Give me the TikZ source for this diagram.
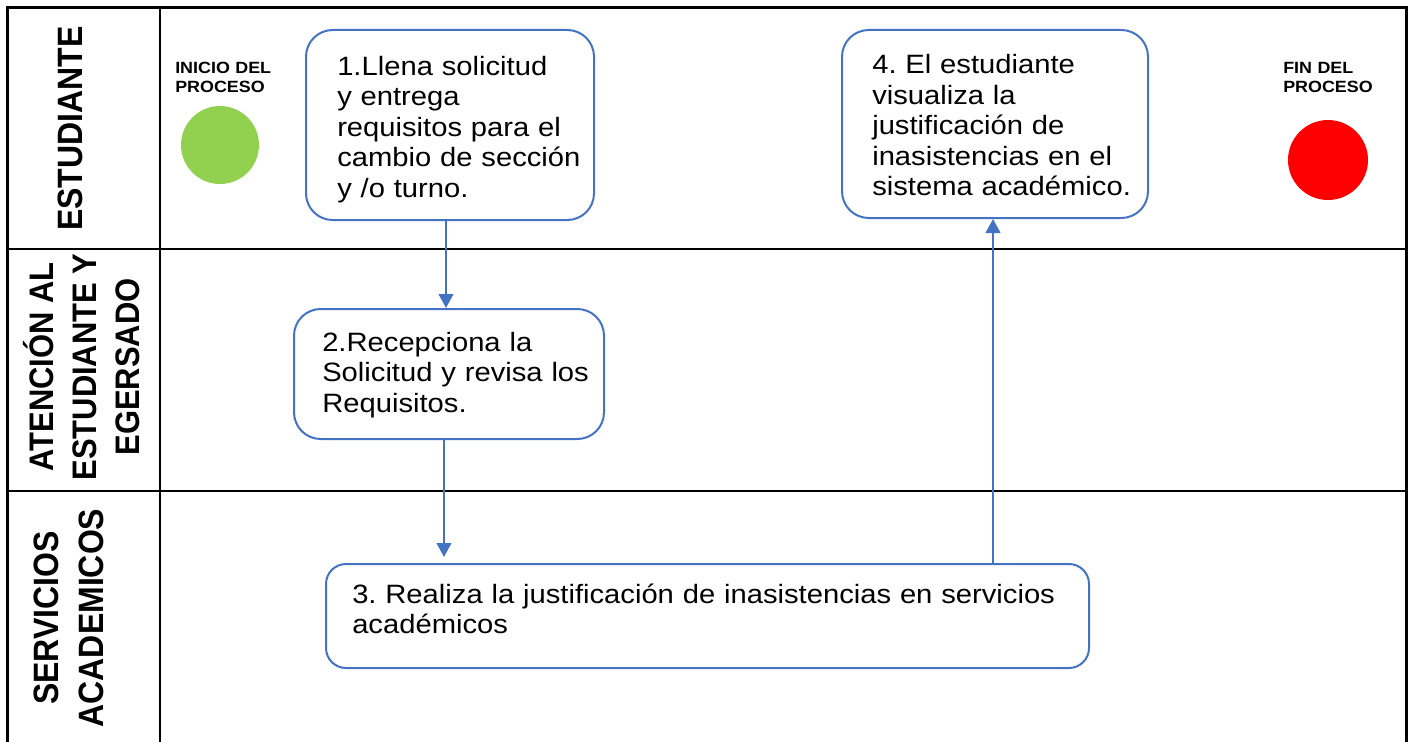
\documentclass[tikz,border=0pt]{standalone}
\usepackage{fontspec}
\setmainfont{Liberation Sans}[FakeStretch=1.1]
\newfontfamily\lanefont{Liberation Sans}
\usetikzlibrary{arrows.meta}
\definecolor{boxblue}{HTML}{4472C4}
\definecolor{startgreen}{HTML}{92D050}
\definecolor{endred}{HTML}{FF0000}
\frenchspacing
\tikzset{
  outerline/.style={line width=2.25pt, black},
  innerline/.style={line width=2pt, black},
  procbox/.style={draw=boxblue, line width=1.5pt, rectangle, rounded corners=20pt, inner sep=0pt, fill=white},
  proctext/.style={inner sep=0pt, anchor=base west, text width=330pt, align=left, font=\fontsize{19.9pt}{22.9pt}\selectfont},
  smalllabel/.style={inner sep=0pt, anchor=base west, text width=120pt, align=left, font=\bfseries\fontsize{12.2pt}{13.7pt}\selectfont},
  lanelabel/.style={inner sep=0pt, rotate=90, yscale=1.1, align=center, font=\lanefont\bfseries\fontsize{24pt}{30.5pt}\selectfont},
  flow/.style={draw=boxblue, line width=1.5pt, -{Triangle[width=11pt,length=10.5pt]}},
}
\begin{document}
\begin{tikzpicture}[x=0.75pt, y=-0.75pt]
\useasboundingbox (0,0) rectangle (1410,742);
% table
\draw[outerline] (7.5,742) -- (7.5,7.5) -- (1406,7.5) -- (1406,742);
\draw[innerline] (160,7.5) -- (160,742);
\draw[innerline] (7.5,249) -- (1406,249);
\draw[innerline] (7.5,491) -- (1406,491);
% lane labels
\node[lanelabel] (lane1) at (70,128.5) {ESTUDIANTE};
\node[lanelabel, font=\lanefont\bfseries\fontsize{23.2pt}{29.3pt}\selectfont] (lane2) at (82,367) {ATENCIÓN AL\\ESTUDIANTE Y\\EGERSADO};
\node[lanelabel] (lane3) at (69,618) {SERVICIOS\\ACADEMICOS};
% start / end
\node[smalllabel] (lstart) at (175,74) {INICIO DEL\\PROCESO};
\node[circle, fill=startgreen, minimum size=58.5pt, inner sep=0pt] (start) at (220,145) {};
\node[smalllabel] (lend) at (1283,74) {FIN DEL\\PROCESO};
\node[circle, fill=endred, minimum size=60pt, inner sep=0pt] (end) at (1328,160) {};
% boxes
\node[procbox, minimum width=216pt, minimum height=142.5pt] (b1) at (450,125) {};
\node[procbox, minimum width=229.5pt, minimum height=141pt] (b4) at (995,124) {};
\node[procbox, minimum width=232.5pt, minimum height=97.5pt] (b2) at (449,374) {};
\node[procbox, rounded corners=15pt, minimum width=572.25pt, minimum height=78pt] (b3) at (707.5,616) {};
% box texts
\node[proctext] (t1) at (337,75) {1.Llena solicitud\\y entrega\\requisitos para el\\cambio de sección\\y /o turno.};
\node[proctext] (t4) at (872,73.5) {4. El estudiante\\visualiza la\\justificación de\\inasistencias en el\\sistema académico.};
\node[proctext] (t2) at (322,351) {2.Recepciona la\\Solicitud y revisa los\\Requisitos.};
\node[proctext, text width=600pt] (t3) at (352,603) {3. Realiza la justificación de inasistencias en servicios\\académicos};
% connectors
\coordinate (xa) at (446,0);
\coordinate (xb) at (444,0);
\coordinate (e2) at (444,557);
\coordinate (xc) at (993,0);
\draw[flow] (b1.south -| xa) -- (b2.north -| xa);
\draw[flow] (b2.south -| xb) -- (e2);
\draw[flow] (b3.north -| xc) -- (b4.south -| xc);
\end{tikzpicture}
\end{document}
